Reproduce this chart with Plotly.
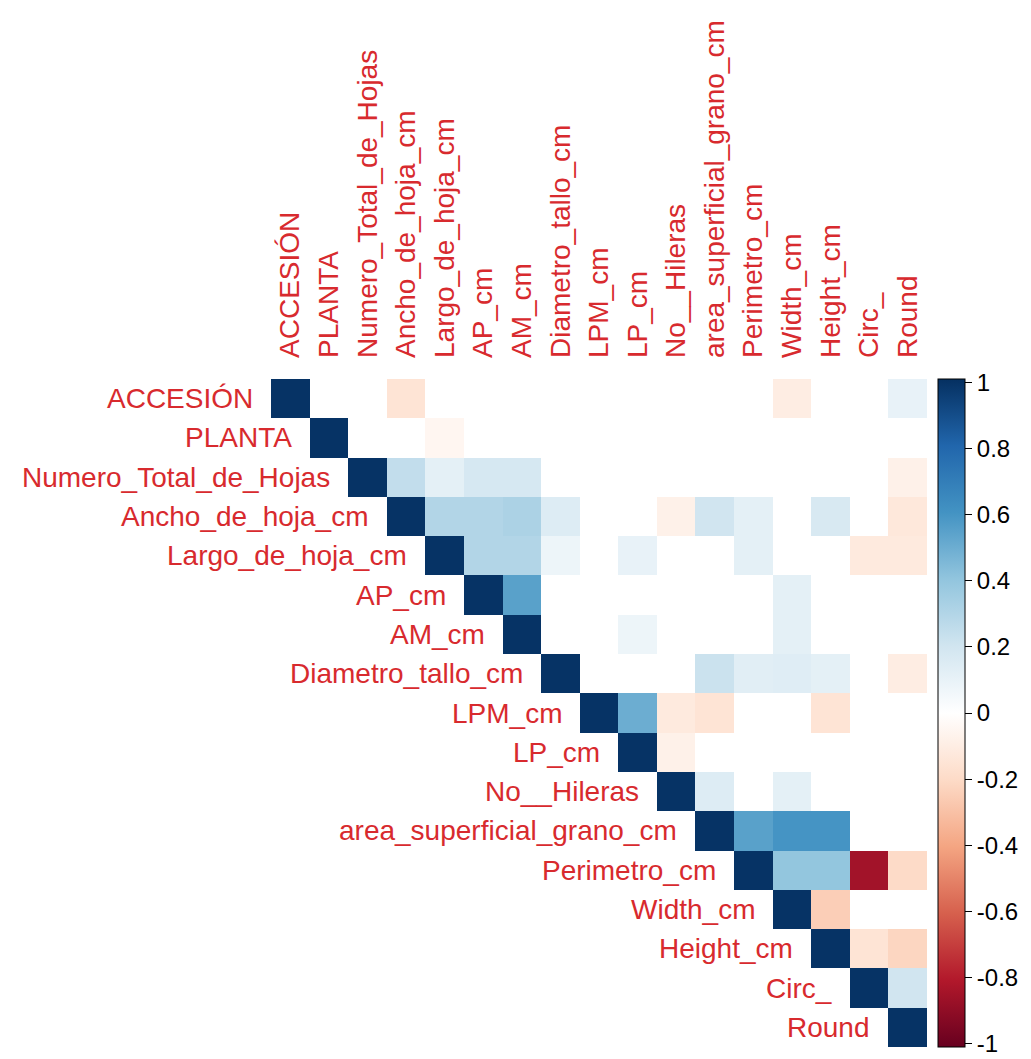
import plotly.graph_objects as go

# Variable names (rows and columns of the correlation matrix)
variables = [
    "ACCESIÓN", "PLANTA", "Numero_Total_de_Hojas", "Ancho_de_hoja_cm",
    "Largo_de_hoja_cm", "AP_cm", "AM_cm", "Diametro_tallo_cm", "LPM_cm",
    "LP_cm", "No__Hileras", "area_superficial_grano_cm", "Perimetro_cm",
    "Width_cm", "Height_cm", "Circ_", "Round",
]

# Upper-triangle correlations: row i holds columns i..16
r_accesion = [1, 0, 0, -0.15, 0, 0, 0, 0, 0, 0, 0, 0, 0, -0.1, 0, 0, 0.1]
r_planta = [1, 0, 0, -0.05, 0, 0, 0, 0, 0, 0, 0, 0, 0, 0, 0, 0]
r_hojas = [1, 0.25, 0.12, 0.18, 0.18, 0, 0, 0, 0, 0, 0, 0, 0, 0, -0.08]
r_ancho = [1, 0.3, 0.3, 0.32, 0.15, 0, 0, -0.08, 0.2, 0.12, 0, 0.17, 0, -0.13]
r_largo = [1, 0.3, 0.3, 0.08, 0, 0.1, 0, 0, 0.12, 0, 0, -0.12, -0.12]
r_ap = [1, 0.55, 0, 0, 0, 0, 0, 0, 0.12, 0, 0, 0]
r_am = [1, 0, 0, 0.08, 0, 0, 0, 0.12, 0, 0, 0]
r_diametro = [1, 0, 0, 0, 0.22, 0.13, 0.14, 0.12, 0, -0.1]
r_lpm = [1, 0.5, -0.12, -0.15, 0, 0, -0.15, 0, 0]
r_lp = [1, -0.08, 0, 0, 0, 0, 0, 0]
r_hileras = [1, 0.15, 0, 0.12, 0, 0, 0]
r_area = [1, 0.55, 0.6, 0.6, 0, 0]
r_perimetro = [1, 0.4, 0.4, -0.85, -0.2]
r_width = [1, -0.25, 0, 0]
r_height = [1, -0.15, -0.22]
r_circ = [1, 0.2]
r_round = [1]

upper_rows = [
    r_accesion, r_planta, r_hojas, r_ancho, r_largo, r_ap, r_am, r_diametro,
    r_lpm, r_lp, r_hileras, r_area, r_perimetro, r_width, r_height, r_circ,
    r_round,
]

colorbar_ticks = [-1, -0.8, -0.6, -0.4, -0.2, 0, 0.2, 0.4, 0.6, 0.8, 1]
colorbar_labels = ["-1", "-0.8", "-0.6", "-0.4", "-0.2", "0",
                   "0.2", "0.4", "0.6", "0.8", "1"]

# Build the full matrix, leaving the lower triangle empty
n = len(variables)
z = []
for i, row in enumerate(upper_rows):
    z.append([None] * i + list(row))

rdbu = ["#67001F", "#B2182B", "#D6604D", "#F4A582", "#FDDBC7", "#FFFFFF",
        "#D1E5F0", "#92C5DE", "#4393C3", "#2166AC", "#053061"]
colorscale = [[k / (len(rdbu) - 1), c] for k, c in enumerate(rdbu)]

label_color = "#d82a2e"
font_family = "Liberation Sans, Arial, sans-serif"
label_size = 28

fig = go.Figure(
    go.Heatmap(
        z=z,
        x=list(range(n)),
        y=list(range(n)),
        # small padding so the -1 and 1 ticks both stay on the colour bar
        zmin=-1.01,
        zmax=1.01,
        colorscale=colorscale,
        hoverongaps=False,
        xgap=0,
        ygap=0,
        colorbar=dict(
            x=1.0165,
            xanchor="left",
            y=0.5,
            yanchor="middle",
            len=1.0,
            lenmode="fraction",
            thickness=27,
            xpad=0,
            ypad=0,
            outlinewidth=1,
            outlinecolor="black",
            tickmode="array",
            tickvals=colorbar_ticks,
            ticktext=colorbar_labels,
            ticks="outside",
            ticklen=7,
            tickcolor="black",
            tickfont=dict(family=font_family, size=24, color="black"),
        ),
    )
)

# Row labels sit just to the left of each diagonal cell
annotations = []
for i, name in enumerate(variables):
    annotations.append(dict(
        x=i - 0.5, y=i, xref="x", yref="y",
        text=name, showarrow=False,
        xanchor="right", yanchor="middle", xshift=-16,
        font=dict(family=font_family, size=label_size, color=label_color),
    ))

fig.update_layout(
    width=1031,
    height=1059,
    margin=dict(l=271, r=94, t=379, b=12),
    paper_bgcolor="white",
    plot_bgcolor="white",
    annotations=annotations,
    xaxis=dict(
        side="top",
        range=[-0.5, n - 0.5],
        tickvals=list(range(n)),
        ticktext=variables,
        tickangle=-90,
        ticks="",
        ticklabelstandoff=20,
        tickfont=dict(family=font_family, size=label_size, color=label_color),
        showgrid=False,
        zeroline=False,
        showline=False,
        fixedrange=True,
    ),
    yaxis=dict(
        range=[n - 0.5, -0.5],
        showticklabels=False,
        ticks="",
        showgrid=False,
        zeroline=False,
        showline=False,
        fixedrange=True,
    ),
)

fig.write_html("out.html")
